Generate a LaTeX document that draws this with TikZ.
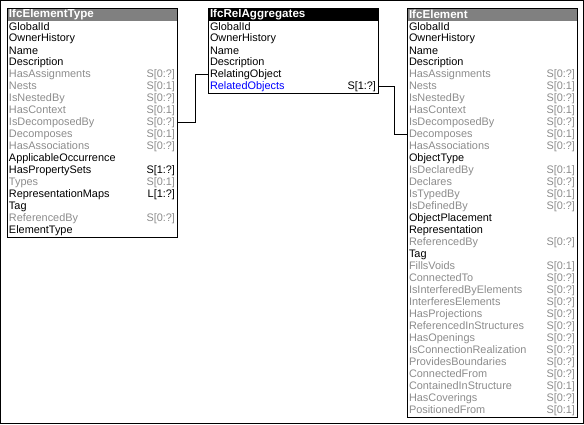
\documentclass[tikz,border=0pt]{standalone}
\usepackage{fontspec}
\setmainfont{Liberation Sans}
\definecolor{hdgray}{RGB}{128,128,128}
\definecolor{invgray}{RGB}{140,140,140}
\tikzset{
  row/.style={anchor=north west, minimum width=169pt, minimum height=12pt,
    inner xsep=1.5pt, inner ysep=0pt, font=\fontsize{10.9}{12}\selectfont},
  head/.style={row, fill=hdgray, text=white, font=\fontsize{11.6}{12}\selectfont\bfseries},
  att/.style={text=black},
  inv/.style={text=invgray},
  link/.style={line width=1pt},
}
\begin{document}
\begin{tikzpicture}[x=1pt,y=-1pt,line width=1pt]
            \useasboundingbox (0,0) rectangle (584,424);
            % рамка
            \draw (0.5,0.5) rectangle (583.5,423.5);

            % IfcElementType
            \node [head] (eth) at (7,8) {\makebox[166pt][l]{IfcElementType}};
            \foreach \n/\c/\s [count=\i] in {GlobalId//att, OwnerHistory//att, Name//att,
                Description//att, HasAssignments/S[0:?]/inv, Nests/S[0:1]/inv,
                IsNestedBy/S[0:?]/inv, HasContext/S[0:1]/inv, IsDecomposedBy/S[0:?]/inv,
                Decomposes/S[0:1]/inv, HasAssociations/S[0:?]/inv, ApplicableOccurrence//att,
                HasPropertySets/S[1:?]/att, Types/S[0:1]/inv, RepresentationMaps/L[1:?]/att,
                Tag//att, ReferencedBy/S[0:?]/inv, ElementType//att}
              \node [row,\s] (et\i) at (7,{8+12*\i}) {\makebox[166pt]{\n\hfill\c}};
            \draw (eth.north west) rectangle (et18.south east);

            % IfcRelAggregates
            \node [head,fill=black] (rah) at (208,8) {\makebox[166pt][l]{IfcRelAggregates}};
            \foreach \n/\c/\s [count=\i] in {GlobalId//att, OwnerHistory//att, Name//att,
                Description//att, RelatingObject//att,
                {\textcolor{blue}{RelatedObjects}}/S[1:?]/att}
              \node [row,\s] (ra\i) at (208,{8+12*\i}) {\makebox[166pt]{\n\hfill\c}};
            \draw (rah.north west) rectangle (ra6.south east);

            % IfcElement
            \node [head] (elh) at (407,8) {\makebox[166pt][l]{IfcElement}};
            \foreach \n/\c/\s [count=\i] in {GlobalId//att, OwnerHistory//att, Name//att,
                Description//att, HasAssignments/S[0:?]/inv, Nests/S[0:1]/inv,
                IsNestedBy/S[0:?]/inv, HasContext/S[0:1]/inv, IsDecomposedBy/S[0:?]/inv,
                Decomposes/S[0:1]/inv, HasAssociations/S[0:?]/inv, ObjectType//att,
                IsDeclaredBy/S[0:1]/inv, Declares/S[0:?]/inv, IsTypedBy/S[0:1]/inv,
                IsDefinedBy/S[0:?]/inv, ObjectPlacement//att, Representation//att,
                ReferencedBy/S[0:?]/inv, Tag//att, FillsVoids/S[0:1]/inv,
                ConnectedTo/S[0:?]/inv, IsInterferedByElements/S[0:?]/inv,
                InterferesElements/S[0:?]/inv, HasProjections/S[0:?]/inv,
                ReferencedInStructures/S[0:?]/inv, HasOpenings/S[0:?]/inv,
                IsConnectionRealization/S[0:?]/inv, ProvidesBoundaries/S[0:?]/inv,
                ConnectedFrom/S[0:?]/inv, ContainedInStructure/S[0:1]/inv,
                HasCoverings/S[0:?]/inv, PositionedFrom/S[0:1]/inv}
              \node [row,\s] (el\i) at (407,{8+12*\i}) {\makebox[166pt]{\n\hfill\c}};
            \draw (elh.north west) rectangle (el33.south east);

            % связи
            \draw [link] (et9.east) -- ++(18,0) |- (ra5.west);
            \draw [link] (ra6.east) -- ++(16,0) |- (el10.west);
\end{tikzpicture}
\end{document}
